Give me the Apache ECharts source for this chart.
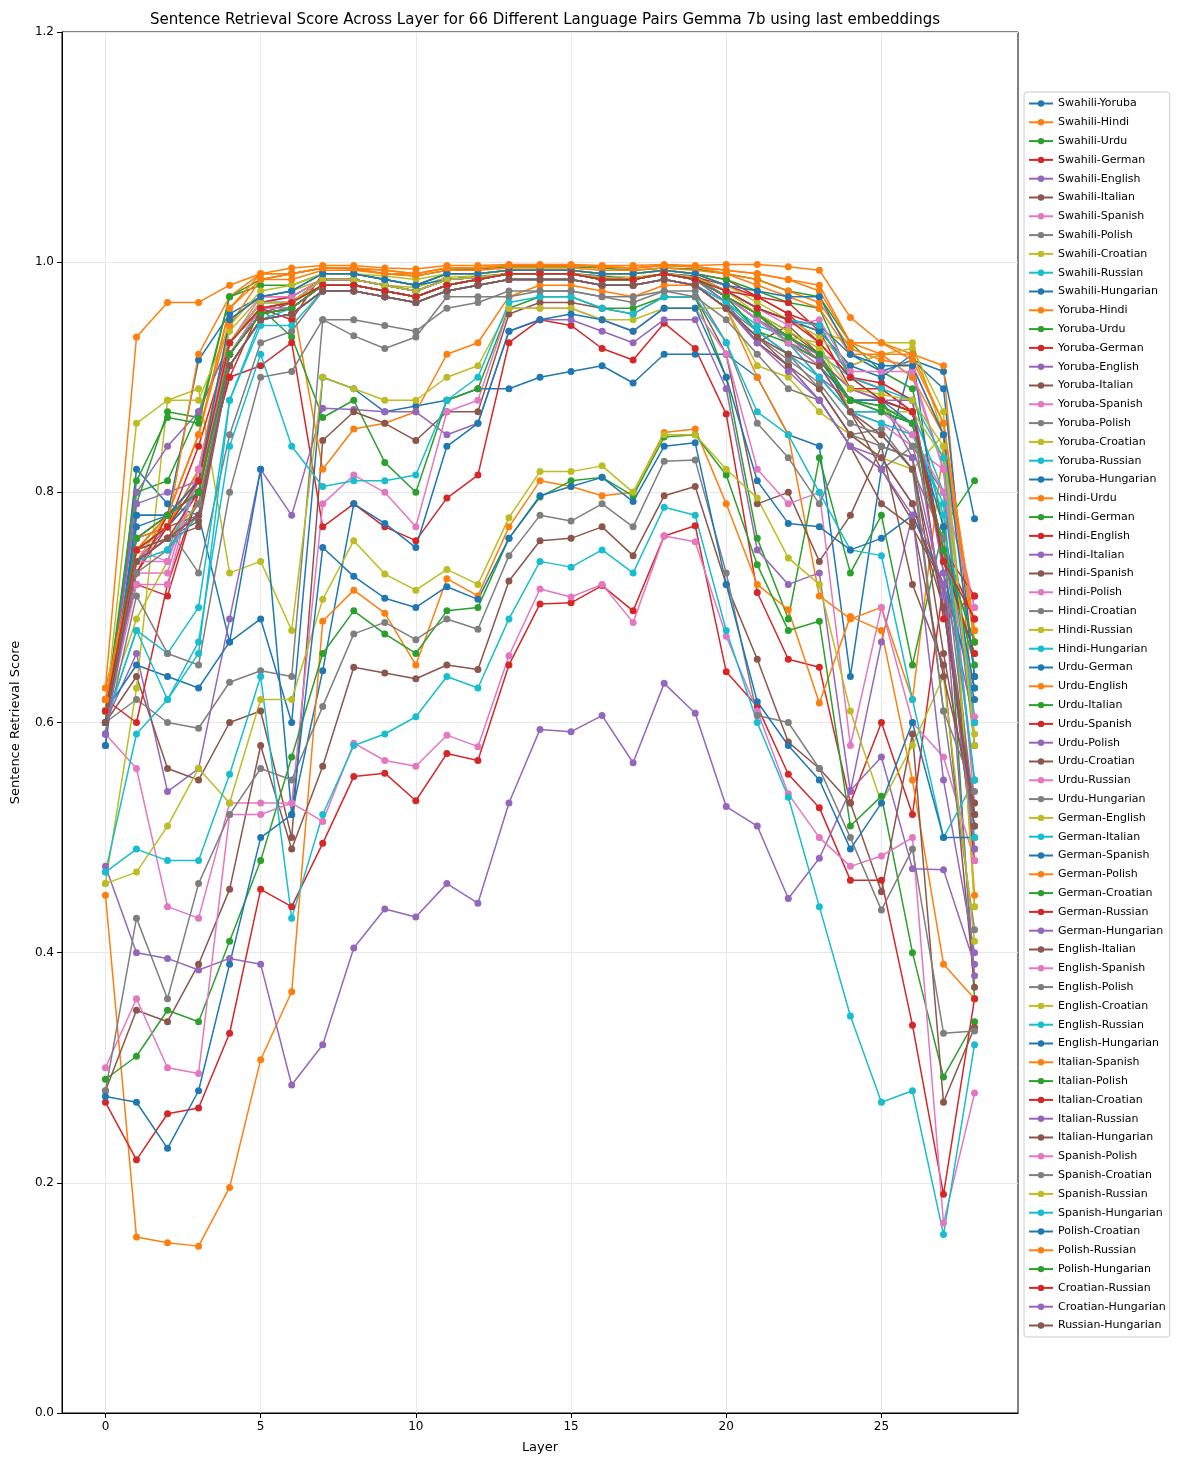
<!DOCTYPE html>
<html>
<head>
<meta charset="utf-8">
<script src="https://cdn.jsdelivr.net/npm/echarts@6/dist/echarts.min.js"></script>
<style>html,body{margin:0;padding:0;background:#fff}#chart{width:1189px;height:1467px}</style>
</head>
<body>
<div id="chart"></div>
<script>
// 层号 0..28
var layers = [0,1,2,3,4,5,6,7,8,9,10,11,12,13,14,15,16,17,18,19,20,21,22,23,24,25,26,27,28];
var pairNames = ['Swahili-Yoruba','Swahili-Hindi','Swahili-Urdu','Swahili-German','Swahili-English','Swahili-Italian','Swahili-Spanish','Swahili-Polish','Swahili-Croatian','Swahili-Russian','Swahili-Hungarian','Yoruba-Hindi','Yoruba-Urdu','Yoruba-German','Yoruba-English','Yoruba-Italian','Yoruba-Spanish','Yoruba-Polish','Yoruba-Croatian','Yoruba-Russian','Yoruba-Hungarian','Hindi-Urdu','Hindi-German','Hindi-English','Hindi-Italian','Hindi-Spanish','Hindi-Polish','Hindi-Croatian','Hindi-Russian','Hindi-Hungarian','Urdu-German','Urdu-English','Urdu-Italian','Urdu-Spanish','Urdu-Polish','Urdu-Croatian','Urdu-Russian','Urdu-Hungarian','German-English','German-Italian','German-Spanish','German-Polish','German-Croatian','German-Russian','German-Hungarian','English-Italian','English-Spanish','English-Polish','English-Croatian','English-Russian','English-Hungarian','Italian-Spanish','Italian-Polish','Italian-Croatian','Italian-Russian','Italian-Hungarian','Spanish-Polish','Spanish-Croatian','Spanish-Russian','Spanish-Hungarian','Polish-Croatian','Polish-Russian','Polish-Hungarian','Croatian-Russian','Croatian-Hungarian','Russian-Hungarian'];
var yTicks = [0,0.2,0.4,0.6,0.8,1.0,1.2];
var xTicks = [0,5,10,15,20,25];
var tab10 = ['#1f77b4','#ff7f0e','#2ca02c','#d62728','#9467bd','#8c564b','#e377c2','#7f7f7f','#bcbd22','#17becf'];

var scores = [
[0.58,0.82,0.79,0.78,0.67,0.69,0.60,0.90,0.89,0.87,0.875,0.88,0.89,0.89,0.90,0.905,0.91,0.895,0.92,0.92,0.92,0.90,0.85,0.84,0.64,0.82,0.915,0.905,0.777],
[0.63,0.74,0.78,0.85,0.95,0.97,0.97,0.82,0.855,0.86,0.87,0.92,0.93,0.97,0.98,0.98,0.975,0.97,0.98,0.98,0.96,0.90,0.85,0.71,0.69,0.70,0.62,0.84,0.45],
[0.61,0.80,0.81,0.87,0.93,0.96,0.935,0.865,0.88,0.826,0.80,0.88,0.89,0.96,0.97,0.97,0.96,0.96,0.97,0.97,0.90,0.76,0.69,0.83,0.73,0.78,0.65,0.77,0.36],
[0.62,0.72,0.71,0.80,0.90,0.91,0.93,0.77,0.79,0.77,0.758,0.795,0.815,0.93,0.95,0.945,0.925,0.915,0.947,0.925,0.868,0.713,0.655,0.648,0.53,0.60,0.52,0.72,0.48],
[0.60,0.66,0.54,0.56,0.69,0.82,0.78,0.873,0.872,0.87,0.87,0.85,0.86,0.94,0.95,0.95,0.94,0.93,0.95,0.95,0.89,0.75,0.72,0.73,0.54,0.67,0.78,0.72,0.38],
[0.60,0.64,0.56,0.55,0.60,0.61,0.50,0.845,0.87,0.86,0.845,0.87,0.87,0.955,0.965,0.965,0.96,0.955,0.97,0.97,0.92,0.79,0.80,0.74,0.78,0.84,0.72,0.65,0.37],
[0.59,0.56,0.44,0.43,0.53,0.53,0.53,0.79,0.815,0.80,0.77,0.87,0.88,0.96,0.96,0.96,0.95,0.94,0.96,0.96,0.92,0.82,0.79,0.80,0.58,0.70,0.60,0.57,0.48],
[0.60,0.62,0.60,0.595,0.635,0.645,0.64,0.95,0.936,0.925,0.935,0.97,0.97,0.97,0.975,0.975,0.97,0.965,0.975,0.975,0.93,0.86,0.83,0.79,0.85,0.855,0.82,0.61,0.42],
[0.46,0.63,0.88,0.89,0.73,0.74,0.68,0.90,0.89,0.88,0.88,0.90,0.91,0.96,0.96,0.96,0.95,0.95,0.96,0.96,0.96,0.91,0.90,0.87,0.85,0.83,0.82,0.85,0.44],
[0.47,0.59,0.62,0.67,0.84,0.92,0.84,0.805,0.81,0.81,0.815,0.88,0.90,0.965,0.97,0.97,0.96,0.955,0.97,0.97,0.93,0.87,0.85,0.80,0.75,0.745,0.62,0.50,0.55],
[0.61,0.65,0.64,0.63,0.67,0.82,0.52,0.645,0.79,0.773,0.752,0.84,0.86,0.94,0.95,0.955,0.95,0.94,0.96,0.96,0.90,0.81,0.773,0.77,0.75,0.76,0.78,0.72,0.63],
[0.45,0.153,0.148,0.145,0.196,0.307,0.366,0.688,0.715,0.695,0.65,0.725,0.71,0.77,0.81,0.805,0.797,0.80,0.852,0.855,0.79,0.72,0.698,0.617,0.692,0.68,0.55,0.39,0.36],
[0.29,0.31,0.35,0.34,0.41,0.48,0.57,0.66,0.697,0.677,0.66,0.697,0.70,0.76,0.796,0.81,0.813,0.797,0.848,0.85,0.815,0.737,0.68,0.688,0.51,0.536,0.40,0.292,0.34],
[0.27,0.22,0.26,0.265,0.33,0.455,0.44,0.495,0.553,0.556,0.532,0.573,0.567,0.65,0.703,0.704,0.719,0.697,0.762,0.771,0.644,0.614,0.555,0.526,0.463,0.463,0.337,0.19,0.36],
[0.475,0.40,0.395,0.385,0.395,0.39,0.285,0.32,0.404,0.438,0.431,0.46,0.443,0.53,0.594,0.592,0.606,0.565,0.634,0.608,0.527,0.51,0.447,0.482,0.541,0.57,0.473,0.472,0.39],
[0.28,0.35,0.34,0.39,0.455,0.58,0.49,0.562,0.648,0.643,0.638,0.65,0.646,0.723,0.758,0.76,0.77,0.745,0.797,0.805,0.72,0.655,0.583,0.56,0.53,0.453,0.59,0.27,0.335],
[0.30,0.36,0.30,0.295,0.52,0.52,0.53,0.514,0.582,0.567,0.562,0.589,0.579,0.658,0.716,0.709,0.72,0.687,0.762,0.757,0.675,0.61,0.538,0.50,0.475,0.484,0.50,0.165,0.278],
[0.28,0.43,0.36,0.46,0.52,0.56,0.55,0.614,0.677,0.687,0.672,0.69,0.681,0.745,0.78,0.775,0.79,0.77,0.827,0.828,0.73,0.606,0.60,0.56,0.50,0.437,0.49,0.33,0.332],
[0.46,0.47,0.51,0.56,0.53,0.62,0.62,0.707,0.758,0.729,0.715,0.733,0.72,0.778,0.818,0.818,0.823,0.80,0.85,0.85,0.82,0.795,0.743,0.72,0.61,0.53,0.58,0.64,0.41],
[0.47,0.49,0.48,0.48,0.555,0.64,0.43,0.52,0.58,0.59,0.605,0.64,0.63,0.69,0.74,0.735,0.75,0.73,0.787,0.78,0.68,0.60,0.535,0.44,0.345,0.27,0.28,0.155,0.32],
[0.275,0.27,0.23,0.28,0.39,0.50,0.52,0.752,0.727,0.708,0.70,0.718,0.707,0.76,0.797,0.805,0.813,0.792,0.84,0.843,0.72,0.618,0.58,0.55,0.49,0.53,0.60,0.50,0.50],
[0.63,0.935,0.965,0.965,0.98,0.99,0.995,0.997,0.997,0.995,0.994,0.997,0.997,0.998,0.998,0.998,0.997,0.997,0.998,0.997,0.998,0.998,0.996,0.993,0.952,0.93,0.92,0.91,0.60],
[0.61,0.79,0.87,0.865,0.97,0.985,0.99,0.995,0.994,0.99,0.988,0.993,0.994,0.996,0.996,0.996,0.995,0.993,0.995,0.994,0.99,0.985,0.975,0.97,0.93,0.905,0.89,0.77,0.81],
[0.62,0.60,0.72,0.80,0.90,0.96,0.95,0.99,0.99,0.985,0.98,0.99,0.99,0.993,0.993,0.993,0.99,0.99,0.993,0.99,0.985,0.97,0.955,0.93,0.90,0.895,0.88,0.69,0.71],
[0.60,0.80,0.84,0.87,0.93,0.965,0.97,0.985,0.985,0.98,0.975,0.985,0.987,0.99,0.99,0.99,0.987,0.985,0.99,0.987,0.97,0.95,0.93,0.90,0.88,0.87,0.86,0.70,0.52],
[0.61,0.75,0.76,0.775,0.92,0.955,0.965,0.98,0.98,0.975,0.97,0.98,0.985,0.99,0.99,0.99,0.985,0.985,0.99,0.985,0.965,0.93,0.945,0.92,0.87,0.84,0.83,0.66,0.51],
[0.60,0.73,0.73,0.82,0.92,0.96,0.96,0.98,0.98,0.975,0.97,0.98,0.985,0.99,0.99,0.99,0.985,0.985,0.99,0.985,0.97,0.95,0.93,0.90,0.87,0.86,0.84,0.82,0.53],
[0.60,0.75,0.77,0.73,0.85,0.93,0.94,0.975,0.975,0.97,0.965,0.975,0.98,0.985,0.985,0.985,0.98,0.98,0.985,0.98,0.96,0.94,0.92,0.89,0.85,0.84,0.83,0.61,0.54],
[0.61,0.69,0.74,0.82,0.94,0.97,0.975,0.985,0.985,0.98,0.978,0.987,0.988,0.99,0.99,0.99,0.988,0.987,0.99,0.988,0.975,0.96,0.95,0.94,0.93,0.93,0.93,0.85,0.58],
[0.60,0.68,0.66,0.70,0.88,0.95,0.96,0.98,0.98,0.975,0.97,0.98,0.985,0.99,0.99,0.99,0.985,0.985,0.99,0.985,0.97,0.95,0.93,0.90,0.87,0.86,0.85,0.79,0.50],
[0.58,0.78,0.78,0.915,0.955,0.97,0.975,0.99,0.99,0.985,0.98,0.985,0.987,0.99,0.99,0.99,0.988,0.985,0.99,0.988,0.975,0.96,0.95,0.945,0.92,0.905,0.915,0.89,0.64],
[0.62,0.74,0.77,0.92,0.97,0.99,0.99,0.995,0.995,0.99,0.99,0.995,0.995,0.997,0.997,0.997,0.996,0.995,0.997,0.996,0.99,0.985,0.975,0.965,0.925,0.915,0.91,0.85,0.67],
[0.61,0.81,0.865,0.86,0.97,0.98,0.98,0.99,0.99,0.985,0.98,0.99,0.99,0.993,0.993,0.993,0.99,0.99,0.993,0.99,0.985,0.975,0.965,0.96,0.90,0.88,0.87,0.75,0.67],
[0.61,0.73,0.77,0.84,0.93,0.96,0.965,0.985,0.985,0.98,0.975,0.985,0.987,0.99,0.99,0.99,0.987,0.985,0.99,0.987,0.98,0.97,0.965,0.94,0.89,0.89,0.87,0.75,0.69],
[0.60,0.74,0.77,0.82,0.93,0.965,0.965,0.985,0.985,0.98,0.975,0.985,0.987,0.99,0.99,0.99,0.987,0.985,0.99,0.987,0.97,0.94,0.92,0.90,0.88,0.88,0.83,0.71,0.49],
[0.60,0.75,0.77,0.80,0.91,0.95,0.955,0.975,0.975,0.97,0.965,0.975,0.98,0.985,0.985,0.985,0.98,0.98,0.985,0.98,0.96,0.935,0.91,0.88,0.84,0.79,0.77,0.72,0.52],
[0.60,0.72,0.72,0.82,0.93,0.96,0.96,0.98,0.98,0.975,0.97,0.98,0.985,0.99,0.99,0.99,0.985,0.985,0.99,0.985,0.97,0.95,0.93,0.92,0.91,0.92,0.90,0.82,0.70],
[0.59,0.71,0.66,0.65,0.80,0.90,0.905,0.95,0.95,0.945,0.94,0.96,0.965,0.975,0.975,0.975,0.97,0.97,0.975,0.97,0.95,0.92,0.89,0.88,0.84,0.82,0.84,0.75,0.52],
[0.61,0.86,0.88,0.88,0.945,0.975,0.98,0.99,0.99,0.988,0.985,0.99,0.99,0.993,0.993,0.993,0.99,0.99,0.993,0.99,0.98,0.965,0.95,0.935,0.91,0.92,0.925,0.87,0.44],
[0.60,0.68,0.62,0.66,0.88,0.945,0.945,0.975,0.975,0.97,0.965,0.975,0.98,0.985,0.985,0.985,0.98,0.98,0.985,0.98,0.965,0.945,0.935,0.92,0.90,0.88,0.87,0.80,0.60],
[0.60,0.76,0.77,0.80,0.93,0.96,0.965,0.985,0.985,0.98,0.975,0.985,0.987,0.99,0.99,0.99,0.987,0.985,0.99,0.987,0.975,0.96,0.95,0.94,0.91,0.90,0.92,0.73,0.62],
[0.61,0.76,0.77,0.82,0.945,0.985,0.985,0.993,0.993,0.99,0.988,0.993,0.993,0.995,0.995,0.995,0.993,0.993,0.995,0.993,0.99,0.98,0.97,0.96,0.92,0.92,0.90,0.85,0.67],
[0.60,0.75,0.78,0.81,0.92,0.955,0.96,0.98,0.98,0.975,0.97,0.98,0.985,0.99,0.99,0.99,0.985,0.985,0.99,0.985,0.97,0.955,0.93,0.915,0.88,0.875,0.86,0.74,0.66],
[0.61,0.73,0.78,0.80,0.93,0.965,0.97,0.985,0.985,0.98,0.975,0.985,0.987,0.99,0.99,0.99,0.987,0.985,0.99,0.987,0.975,0.97,0.955,0.945,0.90,0.89,0.87,0.75,0.71],
[0.60,0.79,0.80,0.81,0.92,0.955,0.96,0.98,0.98,0.975,0.97,0.98,0.985,0.99,0.99,0.99,0.985,0.985,0.99,0.985,0.965,0.93,0.91,0.88,0.84,0.83,0.79,0.72,0.60],
[0.61,0.75,0.77,0.78,0.93,0.96,0.965,0.98,0.98,0.975,0.97,0.98,0.985,0.99,0.99,0.99,0.985,0.985,0.99,0.985,0.97,0.955,0.94,0.92,0.87,0.82,0.775,0.64,0.53],
[0.61,0.75,0.74,0.82,0.93,0.97,0.97,0.985,0.985,0.98,0.975,0.985,0.987,0.99,0.99,0.99,0.987,0.985,0.99,0.987,0.975,0.96,0.945,0.95,0.905,0.905,0.905,0.82,0.605],
[0.60,0.75,0.76,0.79,0.92,0.96,0.96,0.98,0.98,0.975,0.97,0.98,0.985,0.99,0.99,0.99,0.985,0.985,0.99,0.985,0.97,0.95,0.935,0.92,0.88,0.88,0.84,0.80,0.58],
[0.61,0.74,0.76,0.79,0.93,0.96,0.965,0.98,0.98,0.975,0.97,0.98,0.985,0.99,0.99,0.99,0.985,0.985,0.99,0.985,0.97,0.95,0.935,0.93,0.87,0.87,0.87,0.83,0.59],
[0.60,0.74,0.75,0.81,0.93,0.965,0.965,0.985,0.985,0.98,0.975,0.985,0.987,0.99,0.99,0.99,0.987,0.985,0.99,0.987,0.975,0.96,0.95,0.945,0.90,0.89,0.88,0.83,0.60],
[0.59,0.78,0.78,0.80,0.92,0.96,0.96,0.98,0.98,0.975,0.97,0.98,0.985,0.99,0.99,0.99,0.985,0.985,0.99,0.985,0.97,0.95,0.93,0.91,0.88,0.88,0.86,0.77,0.63],
[0.62,0.76,0.78,0.85,0.96,0.99,0.99,0.995,0.995,0.993,0.99,0.995,0.995,0.997,0.997,0.997,0.996,0.995,0.997,0.996,0.993,0.99,0.985,0.975,0.93,0.92,0.92,0.86,0.68],
[0.60,0.75,0.77,0.81,0.92,0.955,0.96,0.98,0.98,0.975,0.97,0.98,0.985,0.99,0.99,0.99,0.985,0.985,0.99,0.985,0.97,0.94,0.93,0.915,0.88,0.875,0.86,0.75,0.65],
[0.60,0.74,0.76,0.80,0.92,0.955,0.96,0.98,0.98,0.975,0.97,0.98,0.985,0.99,0.99,0.99,0.985,0.985,0.99,0.985,0.97,0.955,0.935,0.915,0.89,0.88,0.87,0.74,0.66],
[0.61,0.76,0.78,0.81,0.93,0.965,0.965,0.985,0.985,0.98,0.975,0.985,0.987,0.99,0.99,0.99,0.987,0.985,0.99,0.987,0.97,0.95,0.935,0.915,0.89,0.88,0.88,0.73,0.49],
[0.60,0.75,0.76,0.77,0.91,0.95,0.955,0.975,0.975,0.97,0.965,0.975,0.98,0.985,0.985,0.985,0.98,0.98,0.985,0.98,0.96,0.93,0.91,0.89,0.85,0.83,0.79,0.70,0.51],
[0.60,0.74,0.74,0.81,0.92,0.96,0.96,0.98,0.98,0.975,0.97,0.98,0.985,0.99,0.99,0.99,0.985,0.985,0.99,0.985,0.97,0.95,0.93,0.91,0.87,0.87,0.85,0.80,0.70],
[0.60,0.73,0.75,0.79,0.91,0.95,0.955,0.975,0.975,0.97,0.965,0.975,0.98,0.985,0.985,0.985,0.98,0.98,0.985,0.98,0.96,0.935,0.915,0.895,0.86,0.85,0.82,0.76,0.55],
[0.61,0.75,0.77,0.81,0.93,0.965,0.965,0.985,0.985,0.98,0.975,0.985,0.987,0.99,0.99,0.99,0.987,0.985,0.99,0.987,0.975,0.955,0.94,0.925,0.89,0.885,0.88,0.84,0.58],
[0.60,0.74,0.75,0.78,0.91,0.95,0.955,0.975,0.975,0.97,0.965,0.975,0.98,0.985,0.985,0.985,0.98,0.98,0.985,0.98,0.965,0.94,0.92,0.90,0.87,0.87,0.86,0.78,0.55],
[0.60,0.77,0.78,0.81,0.95,0.97,0.975,0.99,0.99,0.985,0.98,0.99,0.99,0.993,0.993,0.993,0.99,0.99,0.993,0.99,0.98,0.975,0.97,0.97,0.92,0.91,0.91,0.85,0.64],
[0.62,0.75,0.78,0.85,0.96,0.985,0.99,0.995,0.995,0.993,0.99,0.995,0.995,0.997,0.997,0.997,0.996,0.995,0.997,0.996,0.993,0.99,0.985,0.98,0.93,0.93,0.915,0.86,0.68],
[0.60,0.76,0.78,0.80,0.92,0.955,0.96,0.98,0.98,0.975,0.97,0.98,0.985,0.99,0.99,0.99,0.985,0.985,0.99,0.985,0.97,0.955,0.935,0.92,0.88,0.87,0.86,0.75,0.67],
[0.61,0.75,0.77,0.81,0.93,0.96,0.965,0.98,0.98,0.975,0.97,0.98,0.985,0.99,0.99,0.99,0.985,0.985,0.99,0.985,0.975,0.96,0.95,0.93,0.90,0.88,0.87,0.74,0.69],
[0.59,0.74,0.76,0.78,0.91,0.95,0.955,0.975,0.975,0.97,0.965,0.975,0.98,0.985,0.985,0.985,0.98,0.98,0.985,0.98,0.96,0.93,0.905,0.88,0.84,0.82,0.78,0.55,0.40],
[0.60,0.74,0.76,0.78,0.91,0.95,0.955,0.975,0.975,0.97,0.965,0.975,0.98,0.985,0.985,0.985,0.98,0.98,0.985,0.98,0.96,0.935,0.92,0.91,0.87,0.85,0.82,0.70,0.52]
];

var chart = echarts.init(document.getElementById('chart'));

var series = pairNames.map(function(name, i) {
    return {
        name: name,
        type: 'line',
        symbol: 'circle',
        symbolSize: 7,
        color: tab10[i % 10],
        lineStyle: { width: 1.5 },
        data: layers.map(function(l, j) { return [l, scores[i][j]]; })
    };
});

var option = {
    animation: false,
    backgroundColor: '#fff',
    textStyle: { fontFamily: 'DejaVu Sans' },
    title: {
        text: 'Sentence Retrieval Score Across Layer for 66 Different Language Pairs Gemma 7b using last embeddings',
        left: 540,
        textAlign: 'center',
        top: 8,
        textStyle: { fontSize: 15, fontWeight: 'normal', color: '#000' }
    },
    legend: {
        orient: 'vertical',
        left: 1024,
        top: 92,
        width: 156,
        itemWidth: 24,
        itemHeight: 8,
        itemGap: 7.8,
        padding: [6, 4, 6, 4],
        borderColor: '#ccc',
        borderWidth: 1,
        borderRadius: 3,
        textStyle: { fontSize: 11, color: '#000', lineHeight: 11 },
        data: pairNames
    },
    grid: { left: 62, right: 171, top: 32, bottom: 54, show: true, borderColor: '#000', borderWidth: 1 },
    xAxis: {
        type: 'value',
        min: -1.4,
        max: 29.4,
        name: 'Layer',
        nameLocation: 'middle',
        nameGap: 28,
        nameTextStyle: { fontSize: 13, color: '#000' },
        axisLine: { onZero: false, lineStyle: { color: '#000' } },
        axisTick: { customValues: xTicks, lineStyle: { color: '#000' } },
        axisLabel: { customValues: xTicks, color: '#000', fontSize: 12 },
        splitLine: { show: true, lineStyle: { color: '#e8e8e8' } }
    },
    yAxis: {
        type: 'value',
        min: 0,
        max: 1.2,
        interval: 0.2,
        name: 'Sentence Retrieval Score',
        nameLocation: 'middle',
        nameGap: 40,
        nameTextStyle: { fontSize: 13, color: '#000' },
        axisLine: { show: true, onZero: false, lineStyle: { color: '#000' } },
        axisTick: { show: true, lineStyle: { color: '#000' } },
        axisLabel: { color: '#000', fontSize: 12, formatter: function(v) { return v.toFixed(1); } },
        splitLine: { show: true, lineStyle: { color: '#e8e8e8' } }
    },
    series: series
};
chart.setOption(option);
</script>
</body>
</html>
